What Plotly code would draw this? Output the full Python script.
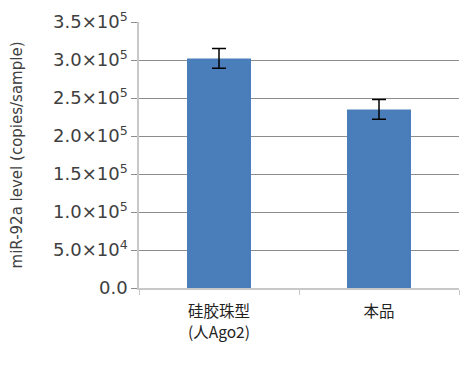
import plotly.graph_objects as go

categories = ["硅胶珠型<br>(人Ago2)", "本品"]
values = [302000, 235000]
errors = [13000, 13000]
tick_vals = [0, 50000, 100000, 150000, 200000, 250000, 300000, 350000]
tick_text = ["0.0", "5.0×10<sup>4</sup>", "1.0×10<sup>5</sup>", "1.5×10<sup>5</sup>",
             "2.0×10<sup>5</sup>", "2.5×10<sup>5</sup>", "3.0×10<sup>5</sup>", "3.5×10<sup>5</sup>"]

font_family = "DejaVu Sans, Noto Sans CJK JP, sans-serif"
cjk_family = "Noto Sans CJK JP, Noto Sans, sans-serif"

fig = go.Figure(go.Bar(
    x=categories, y=values, width=0.4,
    marker=dict(color="#4a7ebb", line=dict(width=0)),
    error_y=dict(type="data", array=errors, color="black", thickness=1.5, width=7),
))

fig.update_layout(
    width=470, height=365,
    margin=dict(l=131, r=19, t=14, b=85),
    paper_bgcolor="white", plot_bgcolor="white",
    font=dict(family=font_family, color="#404040"),
    showlegend=False,
)
fig.update_yaxes(
    range=[0, 350000], tickvals=tick_vals, ticktext=tick_text,
    tickfont=dict(size=18, color="#404040"),
    showgrid=True, gridcolor="#8c8c8c", gridwidth=1,
    showline=True, linecolor="#c8c8c8", linewidth=1.5,
    ticks="outside", ticklen=6, tickcolor="#8c8c8c",
    zeroline=False, automargin=False,
    title=dict(text="miR-92a level (copies/sample)", font=dict(size=15, color="#404040"), standoff=29),
)
fig.update_xaxes(
    tickfont=dict(size=15.5, color="#222222", family=cjk_family),
    showline=True, linecolor="#c8c8c8", linewidth=1.5,
    ticks="outside", tickson="boundaries", ticklen=5, tickcolor="#c8c8c8",
    ticklabelstandoff=9, automargin=False,
    showgrid=False,
)

fig.write_html("out.html")
